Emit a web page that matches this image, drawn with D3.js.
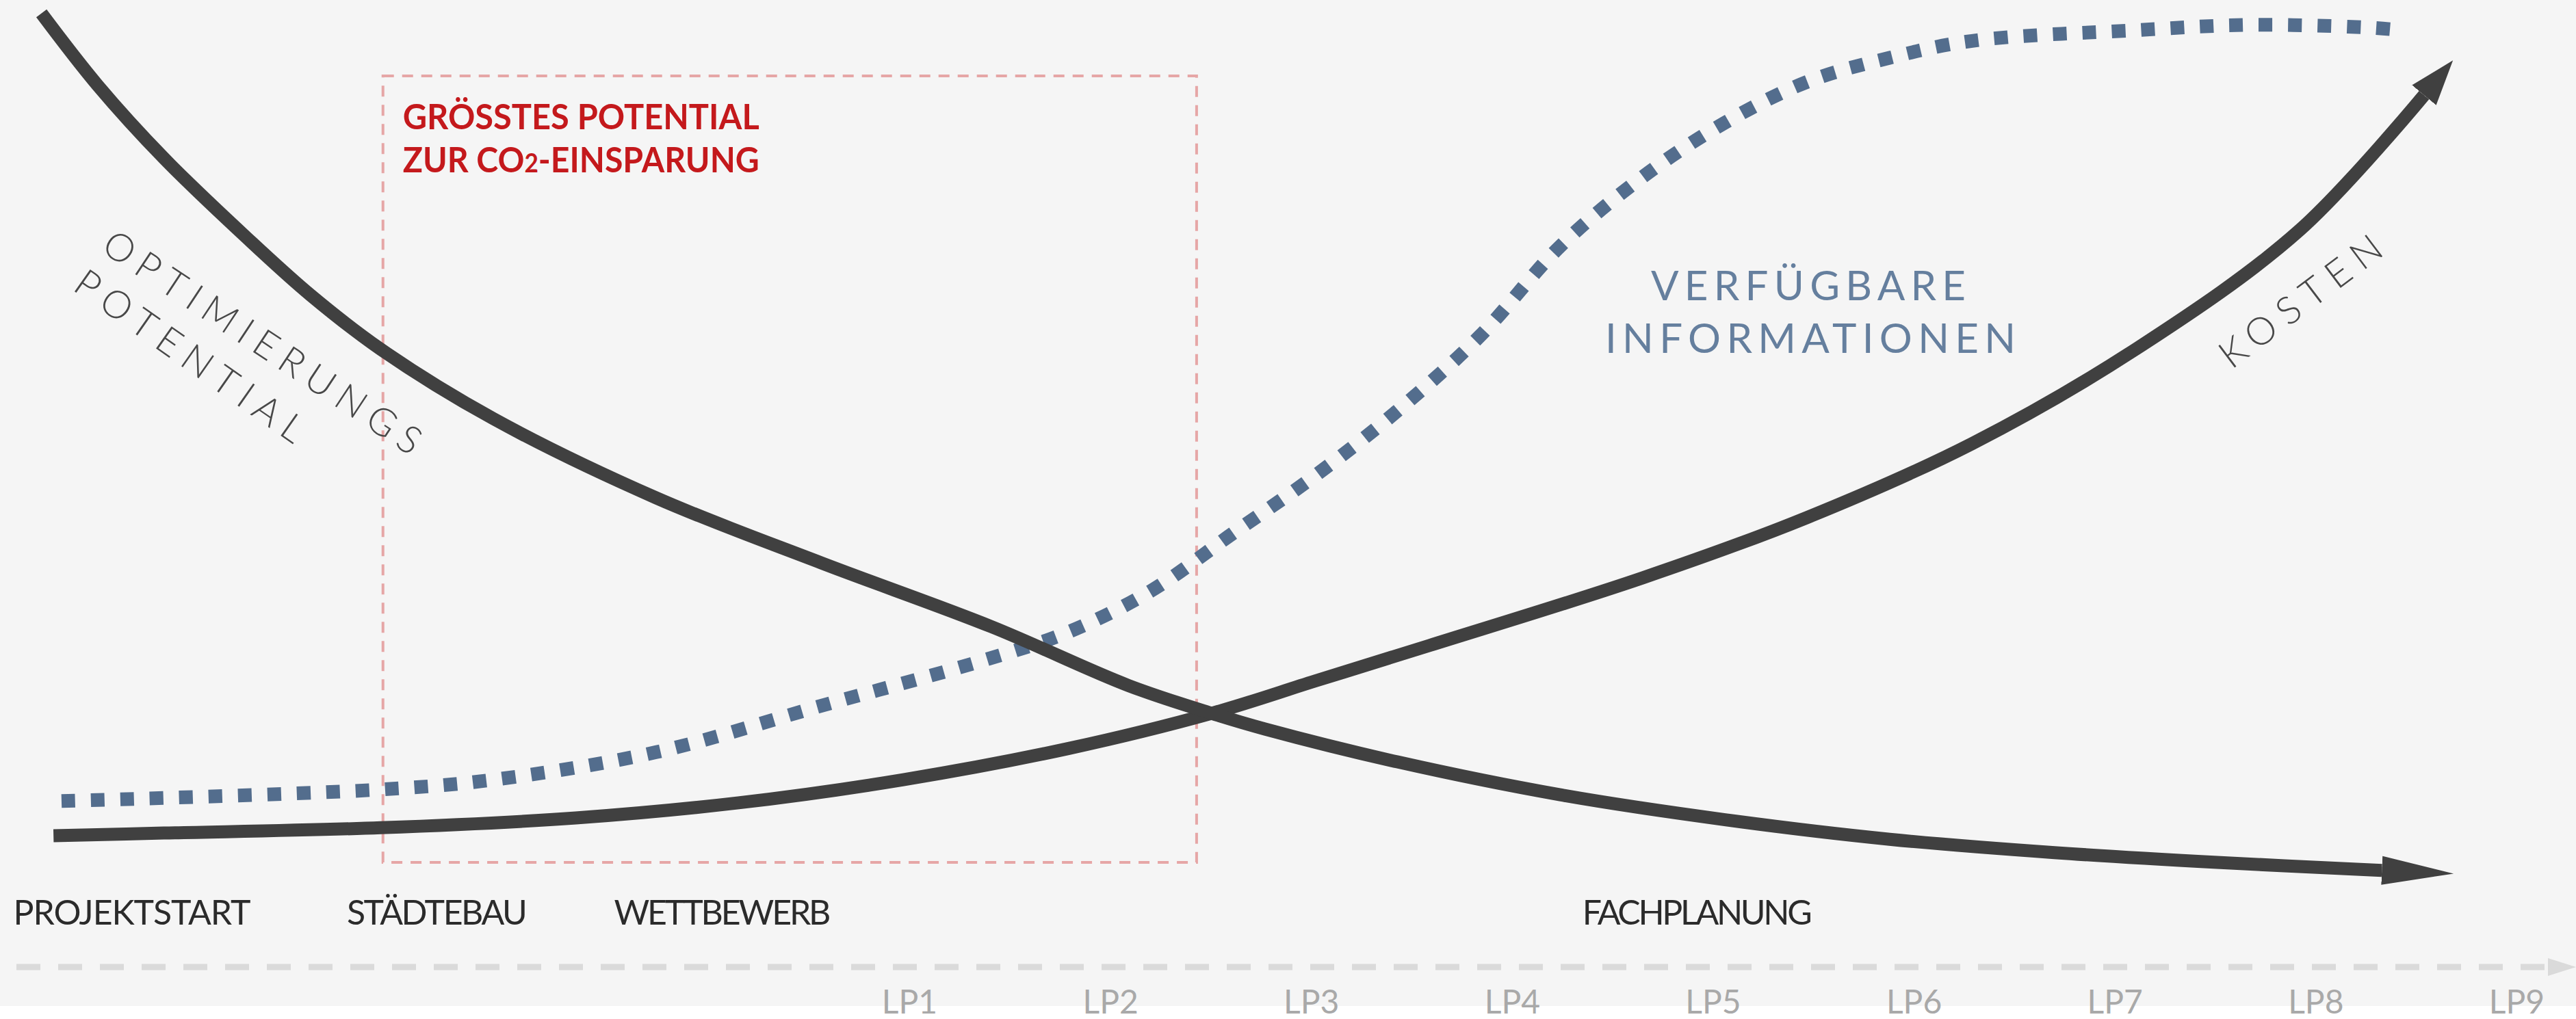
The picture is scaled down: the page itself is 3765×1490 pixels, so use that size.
<!DOCTYPE html>
<html>
<head>
<meta charset="utf-8">
<script src="https://cdn.jsdelivr.net/npm/d3@7"></script>
<style>
  html, body { margin: 0; padding: 0; background: #fff; }
  svg { display: block; }
</style>
</head>
<body>
<div id="chart"></div>
<script>
// x = Leistungsphase (LP1 = 1 ... LP9 = 9, negative = before LP1), y = level 0..100
const lpTicks = [1, 2, 3, 4, 5, 6, 7, 8, 9];

const phaseNames = ['PROJEKTSTART', 'STÄDTEBAU', 'WETTBEWERB', 'FACHPLANUNG'];
const phaseStart = [-3.46, -1.80, -0.47, 4.35];

// Optimierungspotential (falling)
const optX = [-3.32, -3.04, -2.71, -2.30, -1.98, -1.63, -1.07, -0.26, 0.56, 1.41, 2.09, 2.50, 2.77, 3.43, 4.24, 5.06, 5.88, 6.70, 7.51, 8.33];
const optY = [98.5, 90.4, 82.2, 73.3, 66.8, 60.7, 52.9, 44.0, 36.7, 29.5, 22.9, 19.8, 18.0, 14.3, 10.6, 7.8, 5.6, 4.1, 3.0, 2.1];

// Kosten (rising)
const costX = [-3.26, -2.71, -1.63, -0.66, 0.15, 0.97, 1.79, 2.51, 3.02, 3.59, 4.65, 5.47, 6.29, 7.11, 7.92, 8.54];
const costY = [6.0, 6.3, 6.9, 8.0, 9.7, 12.3, 15.8, 19.8, 23.4, 27.4, 35.0, 41.8, 50.1, 60.8, 74.1, 89.3];

// Verfügbare Informationen (S-curve)
const infoX = [-3.22, -1.63, -1.07, -0.26, 0.56, 1.38, 1.79, 2.20, 2.61, 3.02, 3.43, 3.84, 4.24, 4.65, 5.06, 5.47, 5.88, 6.29, 7.10, 7.68, 8.26, 8.43];
const infoY = [9.9, 11.2, 12.3, 15.4, 20.6, 25.8, 28.9, 33.5, 40.0, 46.5, 53.8, 62.2, 72.3, 80.1, 86.2, 90.8, 93.5, 95.4, 96.6, 97.2, 96.9, 96.6];

// span of the "größtes Potential" box on the x axis
const potentialSpan = [-1.62, 2.43];

// ---- layout ----
const W = 3765, H = 1490;
const bgH = 1471;
const axisY = 1414;
const labelY = 1352;
const phaseLen = [347, 264, 317, 336];
const font = 'Lato, "Open Sans", sans-serif';

const x = d3.scaleLinear().domain([0, 9]).range([1035.4, 3678]);
const y = d3.scaleLinear().domain([0, 100]).range([1300, 0]);

const svg = d3.select('#chart').append('svg')
  .attr('width', W)
  .attr('height', H);

svg.append('rect')
  .attr('width', W).attr('height', bgH)
  .attr('fill', '#f5f5f5');

const defs = svg.append('defs');
function marker(id, len, half, color) {
  defs.append('marker')
    .attr('id', id)
    .attr('markerUnits', 'userSpaceOnUse')
    .attr('viewBox', `0 ${-half - 2} ${len + 4} ${2 * half + 4}`)
    .attr('markerWidth', len + 4)
    .attr('markerHeight', 2 * half + 4)
    .attr('refX', 0).attr('refY', 0)
    .attr('orient', 'auto')
    .append('path')
    .attr('d', `M0,${-half}L${len},0L0,${half}Z`)
    .attr('fill', color);
}
marker('headOpt', 105, 21, '#404040');
marker('headCost', 66, 23, '#404040');
marker('headAxis', 41, 13, '#dadada');

// red dashed box
svg.append('rect')
  .attr('x', x(potentialSpan[0]))
  .attr('y', 111)
  .attr('width', x(potentialSpan[1]) - x(potentialSpan[0]))
  .attr('height', 1150)
  .attr('fill', 'none')
  .attr('stroke', '#e6a6a6')
  .attr('stroke-width', 4)
  .attr('stroke-dasharray', '16,12');

function redLine(yPos) {
  return svg.append('text')
    .attr('font-family', font)
    .attr('font-weight', 700)
    .attr('font-size', 52)
    .attr('fill', '#c4191c')
    .attr('x', x(potentialSpan[0]) + 29).attr('y', yPos)
    .attr('textLength', 521).attr('lengthAdjust', 'spacingAndGlyphs');
}
redLine(189).text('GRÖSSTES POTENTIAL');
const line2 = redLine(252);
line2.append('tspan').text('ZUR CO');
line2.append('tspan').attr('font-size', 38).text('2');
line2.append('tspan').text('-EINSPARUNG');

// curves
const lineGen = d3.line()
  .x(d => x(d[0]))
  .y(d => y(d[1]))
  .curve(d3.curveCatmullRom.alpha(0.5));

svg.append('path')
  .datum(d3.zip(infoX, infoY))
  .attr('d', lineGen)
  .attr('fill', 'none')
  .attr('stroke', '#536d8d')
  .attr('stroke-width', 20)
  .attr('stroke-dasharray', '20,23');

svg.append('path')
  .datum(d3.zip(costX, costY))
  .attr('d', lineGen)
  .attr('fill', 'none')
  .attr('stroke', '#404040')
  .attr('stroke-width', 19)
  .attr('marker-end', 'url(#headCost)');

svg.append('path')
  .datum(d3.zip(optX, optY))
  .attr('d', lineGen)
  .attr('fill', 'none')
  .attr('stroke', '#404040')
  .attr('stroke-width', 19)
  .attr('marker-end', 'url(#headOpt)');

// curve labels
function rotLabel(txt, cx, cy, angle, len, size, color, weight) {
  svg.append('text')
    .attr('transform', `translate(${cx},${cy}) rotate(${angle})`)
    .attr('text-anchor', 'middle')
    .attr('dy', '0.36em')
    .attr('font-family', font)
    .attr('font-weight', weight)
    .attr('font-size', size)
    .attr('fill', color)
    .attr('textLength', len)
    .attr('lengthAdjust', 'spacing')
    .text(txt);
}
rotLabel('OPTIMIERUNGS', 384, 500, 33.5, 545, 56, '#484848', 300);
rotLabel('POTENTIAL', 278, 520, 35, 396, 56, '#484848', 300);
rotLabel('KOSTEN', 3362, 440, -37, 282, 56, '#484848', 300);

svg.append('text')
  .attr('x', 2643).attr('y', 439)
  .attr('text-anchor', 'middle')
  .attr('font-family', font).attr('font-size', 60)
  .attr('fill', '#657f9e')
  .attr('textLength', 460).attr('lengthAdjust', 'spacing')
  .text('VERFÜGBARE');
svg.append('text')
  .attr('x', 2646).attr('y', 516)
  .attr('text-anchor', 'middle')
  .attr('font-family', font).attr('font-size', 60)
  .attr('fill', '#657f9e')
  .attr('textLength', 600).attr('lengthAdjust', 'spacing')
  .text('INFORMATIONEN');

// phase labels
svg.selectAll('.phase')
  .data(phaseNames)
  .enter().append('text')
  .attr('class', 'phase')
  .attr('x', (d, i) => x(phaseStart[i]))
  .attr('y', labelY)
  .attr('font-family', font)
  .attr('font-size', 50)
  .attr('fill', '#2b2b2b')
  .attr('textLength', (d, i) => phaseLen[i])
  .attr('lengthAdjust', 'spacing')
  .text(d => d);

// timeline axis
svg.append('line')
  .attr('x1', 24).attr('x2', 3724)
  .attr('y1', axisY).attr('y2', axisY)
  .attr('stroke', '#dadada')
  .attr('stroke-width', 9)
  .attr('stroke-dasharray', '35,26')
  .attr('marker-end', 'url(#headAxis)');

const axisG = svg.append('g')
  .attr('transform', `translate(0,${axisY})`)
  .call(d3.axisBottom(x).tickValues(lpTicks).tickFormat(d => 'LP' + d).tickSize(0));
axisG.select('.domain').remove();
axisG.attr('font-family', null).attr('font-size', null);
axisG.selectAll('text')
  .attr('y', 68)
  .attr('dy', 0)
  .attr('fill', '#a9a9a9')
  .attr('font-family', font)
  .attr('font-size', 48);
</script>
</body>
</html>
